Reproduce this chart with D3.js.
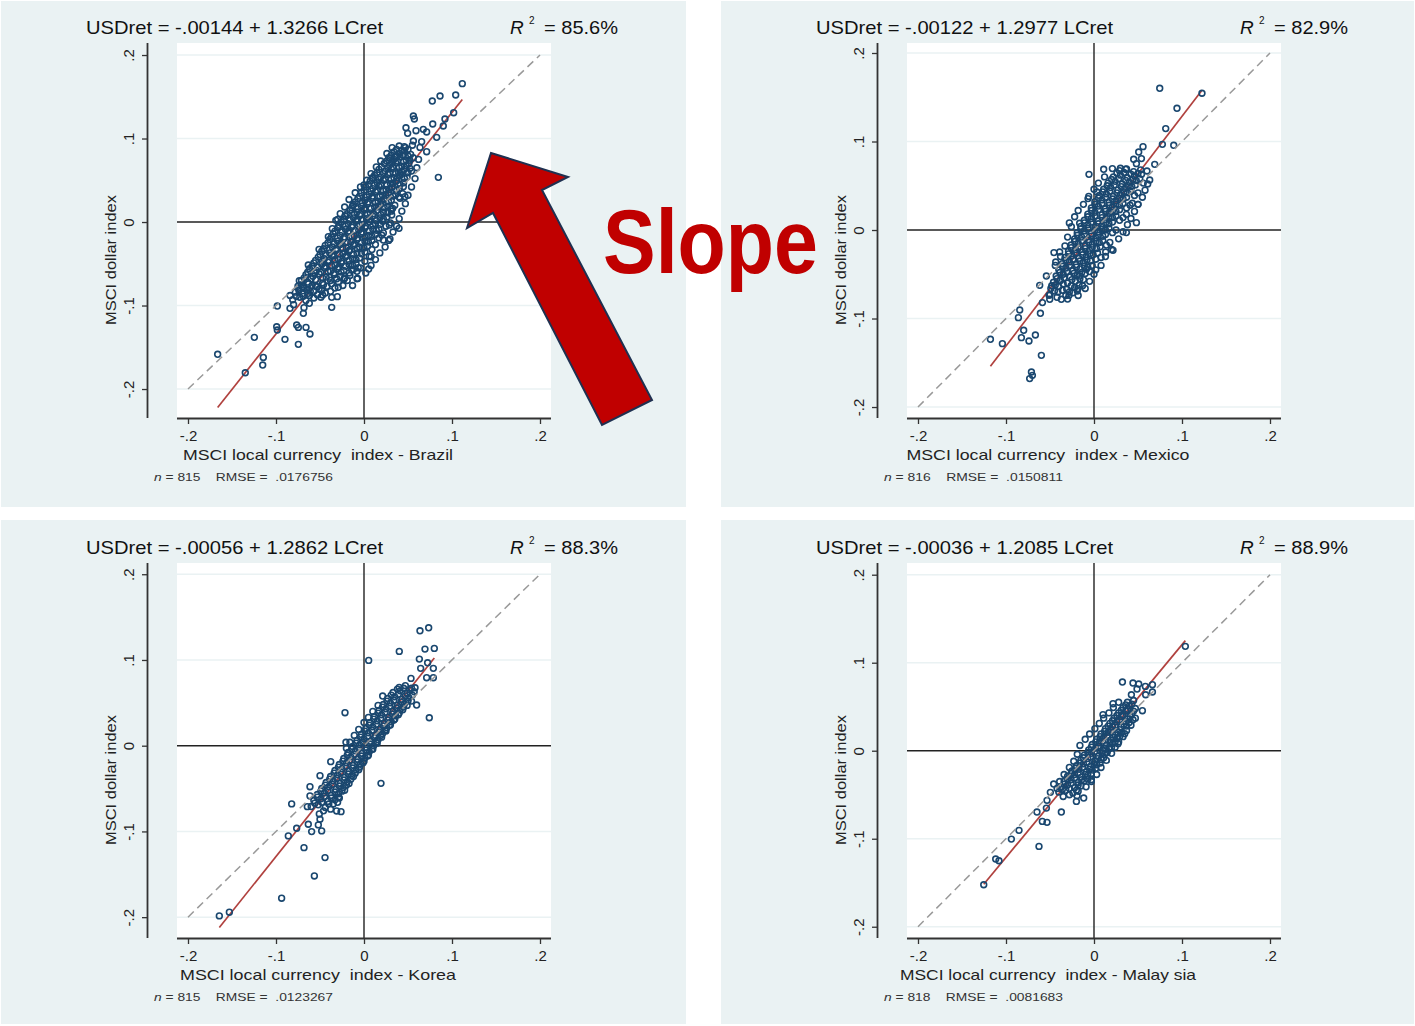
<!DOCTYPE html>
<html>
<head>
<meta charset="utf-8">
<script src="https://cdn.jsdelivr.net/npm/d3@7"></script>
<style>
  body { margin: 0; background: #fff; }
  text { font-family: "Liberation Sans", Arial, sans-serif; }
</style>
</head>
<body>
<svg id="chart" width="1415" height="1026"></svg>
<script>
// regression results shown in each panel
const countries = ['Brazil', 'Mexico', 'Korea', 'Malaysia'];
const countryLabels = ['Brazil', 'Mexico', 'Korea', 'Malay sia'];
const intercepts = [-0.00144, -0.00122, -0.00056, -0.00036];
const slopes = [1.3266, 1.2977, 1.2862, 1.2085];
const interceptLabels = ['-.00144', '-.00122', '-.00056', '-.00036'];
const slopeLabels = ['1.3266', '1.2977', '1.2862', '1.2085'];
const r2Labels = ['85.6%', '82.9%', '88.3%', '88.9%'];
const nObs = [815, 816, 815, 818];
const rmseLabels = ['.0176756', '.0150811', '.0123267', '.0081683'];

const tickValues = [-0.2, -0.1, 0, 0.1, 0.2];
const tickLabels = ['-.2', '-.1', '0', '.1', '.2'];
const gridValues = [-0.2, -0.1, 0.1, 0.2];
const diagValues = [-0.2, 0.2];

// axis ranges as drawn by Stata
const xDomain = [-0.2125, 0.2125];
const yDomains = [[-0.2347, 0.2144], [-0.2124, 0.2113], [-0.2243, 0.2131], [-0.2128, 0.2133]];

// monthly returns [LCret, USDret]
const brazilPts = [
  [.1117,.1657],[.1042,.1521],[.0864,.1509],[.0776,.1449],[.1019,.1309],[.0920,.1234],[.0901,.1150],[.0561,.1269],
  [.0572,.1234],[.0477,.1129],[.0591,.1094],[.0674,.1110],[.0781,.1174],[.0712,.1079],[.0826,.1014],[.0496,.1062],
  [.0561,.0970],[.0655,.0962],[.0636,.0894],[.0712,.0842],[.0845,.0535],[.0458,.0902],[.0356,.0790],[.0447,.0802],
  [.0523,.0643],[.0409,.0583],[.0295,.0763],[.0447,.0423],[.0466,.0303],[.0409,.0284],[.0326,.0164],[.0315,.0084],
  [.0398,-.0076],[.0288,-.0036],[.0295,-.0204],[.0220,-.0216],[.0201,-.0156],[.0095,.0531],[.0000,.0443],[-.0129,.0195],
  [-.0216,.0076],[-.0299,.0032],[-.0292,-.0056],[-.0405,-.0176],[-.0511,-.0327],[-.0633,-.0515],[-.0735,-.0703],[-.0746,-.0794],
  [-.0689,-.0775],[-.0633,-.0854],[-.0538,-.0775],[-.0470,-.0874],[-.0367,-.0902],[-.0303,-.0894],[-.0367,-.1022],[-.0292,-.0782],
  [-.0227,-.0683],[-.0140,-.0575],[-.0072,-.0675],[-.0065,-.0547],[.0053,-.0563],[.0080,-.0415],[-.0621,-.0974],[-.0682,-.1026],
  [-.0841,-.1034],[-.0985,-.1006],[-.0689,-.1094],[-.0765,-.1234],[-.0746,-.1262],[-.0659,-.1262],[-.0614,-.1341],[-.0992,-.1254],
  [-.0985,-.1293],[-.0898,-.1405],[-.0746,-.1465],[-.1246,-.1381],[-.1144,-.1621],[-.1151,-.1713],[-.1349,-.1805],[-.1663,-.1584],
  [-.081,-.093],[-.073,-.090],[-.066,-.094],[-.057,-.091],[-.078,-.084],[-.070,-.086],[-.061,-.083],[-.053,-.087],[-.044,-.085],
  [-.075,-.077],[-.068,-.079],[-.059,-.076],[-.051,-.080],[-.042,-.077],[-.033,-.079],
  [-.071,-.070],[-.064,-.072],[-.055,-.069],[-.047,-.073],[-.038,-.070],[-.029,-.072],[-.019,-.070],
  [-.066,-.063],[-.058,-.065],[-.051,-.062],[-.043,-.066],[-.034,-.063],[-.027,-.065],[-.016,-.064],
  [-.062,-.056],[-.054,-.058],[-.045,-.055],[-.038,-.059],[-.030,-.056],[-.023,-.058],[-.012,-.057],[-.004,-.055],
  [-.057,-.049],[-.048,-.051],[-.041,-.048],[-.033,-.052],[-.026,-.049],[-.017,-.051],[-.009,-.050],
  [-.052,-.042],[-.045,-.044],[-.036,-.041],[-.029,-.045],[-.021,-.042],[-.013,-.044],[-.005,-.043],[.006,-.041],
  [-.048,-.035],[-.039,-.037],[-.032,-.034],[-.024,-.038],[-.017,-.035],[-.008,-.037],[.001,-.036],
  [-.044,-.028],[-.036,-.030],[-.027,-.027],[-.020,-.031],[-.012,-.028],[-.005,-.030],[.004,-.029],[.013,-.027],
  [-.039,-.021],[-.030,-.023],[-.023,-.020],[-.015,-.024],[-.008,-.021],[.001,-.023],[.009,-.022],
  [-.035,-.014],[-.027,-.016],[-.018,-.013],[-.011,-.017],[-.003,-.014],[.005,-.016],[.013,-.015],[.022,-.013],
  [-.030,-.007],[-.021,-.009],[-.014,-.006],[-.006,-.010],[.001,-.007],[.010,-.009],[.017,-.008],
  [-.026,.000],[-.018,-.002],[-.009,.001],[-.002,-.003],[.006,.000],[.013,-.002],[.021,.001],[.030,-.001],
  [-.021,.007],[-.012,.005],[-.005,.008],[.003,.004],[.010,.007],[.018,.005],[.026,.006],
  [-.016,.014],[-.008,.012],[.000,.015],[.007,.011],[.015,.014],[.022,.012],[.031,.013],
  [-.012,.021],[-.003,.019],[.004,.022],[.012,.018],[.019,.021],[.027,.019],[.035,.020],
  [-.007,.028],[.001,.026],[.009,.029],[.016,.025],[.023,.028],[.031,.026],
  [-.003,.035],[.006,.033],[.013,.036],[.021,.032],[.028,.035],[.036,.033],[.044,.034],
  [.002,.042],[.010,.040],[.017,.043],[.025,.039],[.032,.042],[.040,.040],
  [.007,.049],[.015,.047],[.022,.050],[.030,.046],[.037,.049],[.045,.047],
  [.012,.056],[.019,.054],[.027,.057],[.034,.053],[.041,.056],[.049,.054],
  [.017,.063],[.024,.061],[.031,.064],[.039,.060],[.046,.063],[.054,.061],
  [.023,.070],[.029,.068],[.036,.071],[.043,.067],[.051,.070],
  [.028,.077],[.034,.075],[.041,.078],[.048,.074],[.056,.077],
  [.034,.084],[.040,.082],[.046,.085],[.053,.081],[.040,.091],[.047,.089],[.055,.092],
  [-.077,-.089],[-.069,-.089],[-.062,-.088],[-.049,-.090],
  [-.074,-.082],[-.065,-.081],[-.057,-.083],[-.048,-.082],[-.038,-.083],
  [-.071,-.075],[-.063,-.074],[-.055,-.076],[-.046,-.075],[-.037,-.074],[-.024,-.076],
  [-.068,-.067],[-.060,-.068],[-.047,-.067],[-.039,-.066],[-.031,-.068],[-.022,-.067],
  [-.064,-.060],[-.056,-.061],[-.049,-.060],[-.041,-.059],[-.034,-.061],[-.026,-.060],[-.017,-.061],[-.008,-.059],
  [-.059,-.053],[-.052,-.054],[-.044,-.053],[-.037,-.052],[-.029,-.054],[-.021,-.053],[-.013,-.052],
  [-.055,-.046],[-.047,-.047],[-.040,-.046],[-.033,-.045],[-.025,-.047],[-.017,-.046],[-.009,-.045],[.001,-.047],
  [-.050,-.039],[-.043,-.040],[-.035,-.039],[-.028,-.038],[-.020,-.040],[-.012,-.039],[-.003,-.038],
  [-.046,-.032],[-.039,-.033],[-.031,-.032],[-.024,-.031],[-.016,-.033],[-.008,-.032],[.000,-.031],[.009,-.033],
  [-.041,-.025],[-.034,-.026],[-.026,-.025],[-.019,-.024],[-.011,-.026],[-.003,-.025],[.005,-.024],
  [-.037,-.018],[-.030,-.019],[-.022,-.018],[-.014,-.017],[-.007,-.019],[.001,-.018],[.009,-.017],[.017,-.019],
  [-.033,-.011],[-.025,-.012],[-.017,-.011],[-.010,-.010],[-.002,-.012],[.006,-.011],[.014,-.010],
  [-.028,-.004],[-.021,-.005],[-.013,-.004],[-.005,-.003],[.002,-.005],[.010,-.004],[.018,-.003],[.025,-.005],
  [-.023,.003],[-.016,.002],[-.008,.003],[-.001,.002],[.007,.003],[.014,.002],[.022,.004],
  [-.019,.010],[-.011,.009],[-.004,.010],[.004,.009],[.011,.010],[.019,.009],[.027,.011],
  [-.014,.017],[-.007,.016],[.001,.017],[.008,.016],[.016,.018],[.023,.017],[.031,.016],
  [-.010,.024],[-.002,.023],[.005,.024],[.013,.023],[.020,.025],[.028,.024],
  [-.005,.031],[.003,.030],[.010,.031],[.018,.030],[.025,.032],[.033,.031],[.040,.030],
  [.000,.038],[.008,.037],[.015,.038],[.022,.037],[.029,.039],[.037,.038],
  [.005,.045],[.012,.044],[.019,.045],[.026,.044],[.033,.046],[.041,.045],
  [.010,.052],[.017,.051],[.024,.052],[.031,.051],[.038,.053],[.046,.052],
  [.015,.059],[.022,.058],[.029,.059],[.036,.058],[.043,.060],[.050,.059],
  [.020,.066],[.027,.065],[.033,.066],[.040,.065],[.048,.067],
  [.026,.073],[.032,.072],[.038,.073],[.045,.072],[.052,.074],
  [.031,.080],[.037,.079],[.044,.080],[.050,.079],[.037,.087],[.043,.086],[.050,.087],
  [-.036,-.008],[-.032,.002],[-.027,.010],[-.022,.018],[-.017,.027],[-.010,.035],[-.004,.042],[.003,.050],
  [.008,.058],[.014,.066],[.019,.073],[.026,.082],[.032,.089],[.037,-.005],[.033,-.012],[.028,-.022],
  [.024,-.030],[.018,-.037],[.013,-.045],[.008,-.052],[.002,-.061],[-.008,-.068],[-.013,-.076],[.040,.004],
  [.043,.013],[.047,.022],[.050,.032],[.054,.042],[.058,.052],[.060,.065],[.062,.075],[-.084,-.088],[-.080,-.099]
];

const mexicoPts = [
  [.0747,.1601],[.1227,.1545],[.0943,.1375],[.0815,.1146],[.0777,.0968],[.0906,.0957],[.0557,.0942],[.0508,.0881],
  [.0451,.0799],[.0482,.0750],[.0539,.0807],[.0602,.0667],[.0690,.0742],[.0633,.0565],[.0110,.0686],[.0209,.0694],
  [.0300,.0697],[.0360,.0686],[-.0057,.0629],[-.0068,.0355],[.0034,.0429],[.0436,.0302],[.0500,.0290],[.0368,.0177],
  [.0482,.0083],[.0368,-.0029],[.0216,-.0229],[.0133,-.0249],[-.0257,.0038],[-.0163,.0076],[-.0455,-.0255],[-.0390,-.0249],
  [-.0435,-.0362],[-.0086,-.0444],[-.0163,-.0520],[-.0182,-.0662],[-.0284,-.0738],[-.0371,-.0783],[-.0503,-.0783],[-.0511,-.0738],
  [-.0541,-.0520],[-.0617,-.0625],[-.0586,-.0820],[-.0609,-.0941],[-.0844,-.0904],[-.0859,-.0990],[-.0799,-.1133],[-.0825,-.1216],
  [-.0739,-.1254],[-.0666,-.1186],[-.1041,-.1284],[-.1177,-.1235],[-.0598,-.1416],[-.0711,-.1604],[-.0731,-.1679],[-.0700,-.1642],
  [-.050,-.073],[-.041,-.070],[-.032,-.074],[-.024,-.071],
  [-.049,-.066],[-.040,-.064],[-.031,-.067],[-.022,-.065],[-.013,-.063],
  [-.046,-.059],[-.038,-.057],[-.030,-.060],[-.021,-.058],[-.012,-.056],
  [-.043,-.052],[-.035,-.050],[-.027,-.053],[-.019,-.051],[-.010,-.049],
  [-.040,-.045],[-.032,-.043],[-.024,-.046],[-.016,-.044],[-.007,-.042],[.002,-.045],
  [-.036,-.038],[-.028,-.036],[-.020,-.039],[-.012,-.037],[-.004,-.035],
  [-.033,-.031],[-.025,-.029],[-.017,-.032],[-.009,-.030],[-.001,-.028],[.008,-.031],
  [-.029,-.024],[-.021,-.022],[-.013,-.025],[-.005,-.023],[.003,-.021],
  [-.026,-.017],[-.018,-.015],[-.010,-.018],[-.002,-.016],[.006,-.014],[.014,-.017],
  [-.022,-.010],[-.014,-.008],[-.006,-.011],[.002,-.009],[.010,-.007],
  [-.019,-.003],[-.011,-.001],[-.003,-.004],[.005,-.002],[.013,.000],[.021,-.003],
  [-.015,.004],[-.007,.006],[.001,.003],[.009,.005],[.017,.007],
  [-.011,.011],[-.003,.013],[.005,.010],[.013,.012],[.021,.014],[.029,.011],
  [-.007,.018],[.001,.020],[.009,.017],[.017,.019],[.025,.021],
  [-.003,.025],[.005,.027],[.013,.024],[.021,.026],[.029,.028],[.037,.025],
  [.001,.032],[.009,.034],[.017,.031],[.025,.033],[.033,.035],
  [.006,.039],[.014,.041],[.022,.038],[.030,.040],[.038,.042],[.046,.039],
  [.011,.046],[.019,.048],[.027,.045],[.035,.047],[.043,.049],
  [.016,.053],[.024,.055],[.032,.052],[.040,.054],[.048,.056],[.056,.053],
  [.022,.060],[.030,.062],[.038,.059],[.046,.061],[.054,.063],
  [.029,.067],[.037,.069],[.045,.066],[.053,.068],
  [-.045,-.069],[-.036,-.068],[-.028,-.070],[-.019,-.069],
  [-.044,-.062],[-.035,-.061],[-.026,-.063],[-.017,-.062],
  [-.042,-.055],[-.034,-.054],[-.025,-.056],[-.016,-.055],
  [-.039,-.048],[-.031,-.047],[-.023,-.049],[-.014,-.048],[-.005,-.047],
  [-.036,-.041],[-.028,-.040],[-.020,-.042],[-.011,-.041],[-.002,-.040],
  [-.032,-.034],[-.024,-.033],[-.016,-.035],[-.008,-.034],[.002,-.033],
  [-.029,-.027],[-.021,-.026],[-.013,-.028],[-.005,-.027],[.004,-.026],
  [-.026,-.020],[-.018,-.019],[-.010,-.021],[-.002,-.020],[.007,-.019],
  [-.022,-.013],[-.014,-.012],[-.006,-.014],[.002,-.013],[.010,-.012],[.018,-.014],
  [-.019,-.006],[-.011,-.005],[-.003,-.007],[.005,-.006],[.013,-.005],
  [-.015,.001],[-.007,.002],[.001,.000],[.009,.001],[.017,.002],[.025,.000],
  [-.011,.008],[-.003,.009],[.005,.007],[.013,.008],[.021,.009],
  [-.007,.015],[.001,.016],[.009,.014],[.017,.015],[.025,.016],[.033,.014],
  [-.003,.022],[.005,.023],[.013,.021],[.021,.022],[.029,.023],
  [.001,.029],[.009,.030],[.017,.028],[.025,.029],[.033,.030],[.041,.028],
  [.005,.036],[.013,.037],[.021,.035],[.029,.036],[.037,.037],
  [.010,.043],[.018,.044],[.026,.042],[.034,.043],[.042,.044],[.050,.042],
  [.015,.050],[.023,.051],[.031,.049],[.039,.050],[.047,.051],
  [.020,.057],[.028,.058],[.036,.056],[.044,.057],[.052,.058],
  [.026,.064],[.034,.065],[.042,.063],[.050,.064],
  [-.028,.008],[-.022,.015],[-.018,.022],[-.012,.029],[-.006,.038],[.000,.046],[.005,.053],[.012,.060],
  [.028,-.010],[.033,-.002],[.038,.006],[.042,.013],[.046,.021],[.050,.029],[.055,.037],[.058,.045],
  [.061,.052],[.020,-.022],[.013,-.030],[.008,-.040],[.000,-.050],[-.005,-.058],[-.010,-.066],[-.018,-.074],
  [-.030,-.078],[-.042,-.076],[-.048,-.063],[-.044,-.040],[-.038,-.030],[-.033,-.018],[-.030,-.008]
];

const koreaPts = [
  [.0636,.1340],[.0735,.1375],[.0693,.1127],[.0799,.1135],[.0401,.1100],[.0053,.0995],[.0629,.1010],[.0723,.0967],
  [.0644,.0902],[.0788,.0902],[.0712,.0793],[.0788,.0793],[.0534,.0785],[.0580,.0676],[.0598,.0474],[.0742,.0326],
  [.0212,.0579],[-.0216,.0385],[-.0205,.0040],[-.0378,-.0186],[.0193,-.0439],[-.0614,-.0478],[-.0500,-.0350],[-.0614,-.0586],
  [-.0822,-.0679],[-.0644,-.0711],[-.0508,-.0796],[-.0311,-.0761],[-.0261,-.0769],[-.0500,-.0858],[-.0633,-.0916],[-.0519,-.0924],
  [-.0595,-.1002],[-.0481,-.0994],[-.0765,-.0963],[-.0860,-.1052],[-.0682,-.1189],[-.0443,-.1305],[-.0564,-.1519],[-.0936,-.1779],
  [-.1530,-.1942],[-.1644,-.1985],
  [-.060,-.071],[-.052,-.069],[-.044,-.072],
  [-.057,-.064],[-.049,-.062],[-.041,-.065],[-.033,-.063],
  [-.053,-.057],[-.045,-.055],[-.037,-.058],[-.029,-.056],
  [-.048,-.050],[-.040,-.048],[-.032,-.051],[-.024,-.049],
  [-.043,-.043],[-.035,-.041],[-.027,-.044],[-.019,-.042],
  [-.038,-.036],[-.030,-.034],[-.022,-.037],[-.014,-.035],
  [-.033,-.029],[-.025,-.027],[-.017,-.030],[-.009,-.028],
  [-.028,-.022],[-.020,-.020],[-.012,-.023],[-.004,-.021],
  [-.023,-.015],[-.015,-.013],[-.007,-.016],[.001,-.014],
  [-.018,-.008],[-.010,-.006],[-.002,-.009],[.006,-.007],
  [-.013,-.001],[-.005,.001],[.003,-.002],[.011,.000],
  [-.008,.006],[.000,.008],[.008,.005],[.016,.007],
  [-.003,.013],[.005,.015],[.013,.012],[.021,.014],
  [.002,.020],[.010,.022],[.018,.019],[.026,.021],
  [.007,.027],[.015,.029],[.023,.026],[.031,.028],
  [.012,.034],[.020,.036],[.028,.033],[.036,.035],
  [.017,.041],[.025,.043],[.033,.040],[.041,.042],
  [.022,.048],[.030,.050],[.038,.047],[.046,.049],
  [.027,.055],[.035,.057],[.043,.054],[.051,.056],
  [.033,.062],[.041,.064],[.049,.061],[.057,.063],
  [.040,.068],[.047,.070],[.054,.067],
  [-.056,-.067],[-.048,-.066],[-.040,-.068],
  [-.053,-.060],[-.045,-.059],[-.037,-.061],[-.029,-.060],
  [-.049,-.053],[-.041,-.052],[-.033,-.054],[-.025,-.053],
  [-.044,-.046],[-.036,-.045],[-.028,-.047],[-.020,-.046],
  [-.039,-.039],[-.031,-.038],[-.023,-.040],[-.015,-.039],
  [-.034,-.032],[-.026,-.031],[-.018,-.033],[-.010,-.032],
  [-.029,-.025],[-.021,-.024],[-.013,-.026],[-.005,-.025],
  [-.024,-.018],[-.016,-.017],[-.008,-.019],[.000,-.018],
  [-.019,-.011],[-.011,-.010],[-.003,-.012],[.005,-.011],
  [-.014,-.004],[-.006,-.003],[.002,-.005],[.010,-.004],
  [-.009,.003],[-.001,.004],[.007,.002],[.015,.003],
  [-.004,.010],[.004,.011],[.012,.009],[.020,.010],
  [.001,.017],[.009,.018],[.017,.016],[.025,.017],
  [.006,.024],[.014,.025],[.022,.023],[.030,.024],
  [.011,.031],[.019,.032],[.027,.030],[.035,.031],
  [.016,.038],[.024,.039],[.032,.037],[.040,.038],
  [.021,.045],[.029,.046],[.037,.044],[.045,.045],
  [.026,.052],[.034,.053],[.042,.051],[.050,.052],
  [.031,.059],[.039,.060],[.047,.058],[.055,.059],
  [.038,.066],[.045,.067],[.052,.065],
  [-.020,-.003],[-.016,.004],[-.011,.012],[-.006,.019],[.000,.027],[.005,.033],[.010,.040],[.016,.047],
  [.019,.012],[.024,.018],[.029,.024],[.034,.030],[.039,.036],[.044,.042],[.049,.047],[.054,.052],
  [.014,.004],[.009,-.004],[.004,-.012],[-.001,-.020],[-.006,-.028],[-.012,-.036],[-.017,-.044],[-.022,-.052],
  [-.028,-.061],[-.035,-.068],[-.038,-.074],[-.030,-.066],[-.046,-.076]
];

const malaysiaPts = [
  [.1038,.1186],[-.1253,-.1523],[-.1117,-.1231],[-.1080,-.1250],[-.0625,-.1087],[-.0939,-.1004],[-.0852,-.0905],[-.0534,-.0814],
  [-.0587,-.0803],[-.0648,-.0697],[-.0371,-.0697],[-.0541,-.0652],[-.0534,-.0564],[-.0496,-.0473],[-.0458,-.0379],[-.0200,-.0576],
  [-.0117,-.0538],[-.0193,-.0511],[-.0030,-.0330],[.0323,.0780],[.0443,.0769],[.0508,.0758],[.0584,.0731],[.0664,.0750],
  [.0664,.0667],[.0587,.0636],[.0489,.0701],[.0425,.0636],[.0550,.0455],[.0216,.0534],[.0102,.0409],[.0349,.0193],
  [.0273,.0080],[.0110,.0027],[.0443,.0352],
  [-.040,-.047],[-.032,-.045],[-.024,-.048],
  [-.038,-.041],[-.030,-.039],[-.022,-.042],[-.015,-.040],
  [-.034,-.035],[-.026,-.033],[-.018,-.036],[-.011,-.034],
  [-.030,-.029],[-.022,-.027],[-.014,-.030],[-.007,-.028],
  [-.025,-.023],[-.017,-.021],[-.009,-.024],[-.002,-.022],
  [-.020,-.017],[-.012,-.015],[-.004,-.018],[.003,-.016],
  [-.015,-.011],[-.007,-.009],[.001,-.012],[.008,-.010],
  [-.011,-.005],[-.003,-.003],[.005,-.006],[.012,-.004],
  [-.006,.001],[.002,.003],[.010,.000],[.017,.002],
  [-.002,.007],[.006,.009],[.014,.006],[.021,.008],
  [.003,.013],[.011,.015],[.019,.012],[.026,.014],
  [.008,.019],[.016,.021],[.024,.018],[.031,.020],
  [.013,.025],[.021,.027],[.029,.024],
  [.018,.031],[.026,.033],[.034,.030],[.040,.032],
  [.023,.037],[.031,.039],[.038,.036],
  [.028,.043],[.036,.045],[.043,.042],
  [.033,.049],[.040,.051],[.047,.048],
  [.038,.055],[.045,.057],
  [-.036,-.044],[-.028,-.043],[-.020,-.045],
  [-.034,-.038],[-.026,-.037],[-.018,-.039],
  [-.030,-.032],[-.022,-.031],[-.014,-.033],[-.007,-.032],
  [-.026,-.026],[-.018,-.025],[-.010,-.027],[-.003,-.026],
  [-.021,-.020],[-.013,-.019],[-.005,-.021],[.002,-.020],
  [-.016,-.014],[-.008,-.013],[.000,-.015],[.007,-.014],
  [-.012,-.008],[-.004,-.007],[.004,-.009],[.011,-.008],
  [-.007,-.002],[.001,-.001],[.009,-.003],[.015,-.002],
  [-.003,.004],[.005,.005],[.013,.003],[.020,.004],
  [.002,.010],[.010,.011],[.018,.009],[.024,.010],
  [.007,.016],[.015,.017],[.022,.015],[.029,.016],
  [.012,.022],[.020,.023],[.027,.021],
  [.016,.028],[.024,.029],[.031,.027],[.037,.028],
  [.021,.034],[.029,.035],[.036,.033],
  [.026,.040],[.033,.041],[.041,.039],
  [.031,.046],[.038,.047],[.045,.045],
  [.036,.052],[.043,.053],
  [-.016,.006],[-.010,.013],[-.005,.019],[.001,.025],[.006,.031],[.011,.037],[.017,.043],[.022,.049],
  [.028,.055],[.020,-.003],[.024,.004],[.028,.010],[.033,.016],[.037,.023],[.042,.029],[.047,.037],
  [.014,-.011],[.008,-.019],[.003,-.027],[-.003,-.035],[-.009,-.041],[-.018,-.046],[-.028,-.050],[-.035,-.052],
  [-.042,-.043],[-.039,-.035],[-.034,-.027],[-.028,-.019],[-.023,-.012],[-.019,-.004]
];

const pointSets = [brazilPts, mexicoPts, koreaPts, malaysiaPts];

const svg = d3.select('#chart');
const navy = '#1a476f';

// panel frames: [x, y, w, h] of the light background, and the offset of the plot inside
const frames = [[1, 1, 685, 506], [721, 1, 693, 506], [1, 520, 685, 504], [721, 520, 693, 504]];
const offsets = [[0, 0], [730, 0], [0, 520], [730, 520]];
const xTitleWidths = [270, 283, 276, 296];

countries.forEach((country, i) => drawPanel(i));
drawCallout();

function drawPanel(i) {
  const [fx, fy, fw, fh] = frames[i];
  svg.append('rect').attr('x', fx).attr('y', fy).attr('width', fw).attr('height', fh).attr('fill', '#eaf2f3');

  const g = svg.append('g').attr('transform', `translate(${offsets[i][0]},${offsets[i][1]})`);
  const left = 177, right = 551, top = 43, bottom = 418;
  const x = d3.scaleLinear().domain(xDomain).range([left, right]);
  const y = d3.scaleLinear().domain(yDomains[i]).range([bottom, top]);

  g.append('rect').attr('x', left).attr('y', top).attr('width', right - left).attr('height', bottom - top).attr('fill', '#fff');

  g.selectAll('.grid').data(gridValues).join('line')
    .attr('x1', left).attr('x2', right)
    .attr('y1', (d) => y(d)).attr('y2', (d) => y(d))
    .attr('stroke', '#eaf2f3').attr('stroke-width', 1.5);

  // zero reference lines
  g.append('line').attr('x1', x(0)).attr('x2', x(0)).attr('y1', top).attr('y2', bottom)
    .attr('stroke', '#222').attr('stroke-width', 1.4);
  g.append('line').attr('x1', left).attr('x2', right).attr('y1', y(0)).attr('y2', y(0))
    .attr('stroke', '#222').attr('stroke-width', 1.6);

  const pts = pointSets[i];
  const xr = d3.extent(pts, (d) => d[0]);
  const fit = xr.map((v) => [v, intercepts[i] + slopes[i] * v]);
  const line = d3.line().x((d) => x(d[0])).y((d) => y(d[1]));

  g.append('path').attr('d', line(fit)).attr('fill', 'none')
    .attr('stroke', '#b0413e').attr('stroke-width', 1.7);

  g.selectAll('.pt').data(pts).join('circle')
    .attr('cx', (d) => x(d[0])).attr('cy', (d) => y(d[1])).attr('r', 2.9)
    .attr('fill', 'none').attr('stroke', navy).attr('stroke-width', 1.6);

  g.append('path').attr('d', line(diagValues.map((v) => [v, v]))).attr('fill', 'none')
    .attr('stroke', '#999').attr('stroke-width', 1.5).attr('stroke-dasharray', '8,5');

  // axes
  const xAxis = d3.axisBottom(x).tickValues(tickValues).tickFormat((d, k) => tickLabels[k]).tickSize(6).tickSizeOuter(0);
  const xg = g.append('g').attr('transform', `translate(0,${bottom})`).call(xAxis);
  xg.select('.domain').attr('d', `M${left},0.5H${right}`).attr('stroke', '#333').attr('stroke-width', 1.8);
  xg.selectAll('.tick line').attr('stroke', '#333').attr('stroke-width', 1.3);
  xg.selectAll('.tick text').attr('font-size', 15).attr('font-family', '"Liberation Sans", Arial, sans-serif')
    .attr('fill', '#222').attr('y', 12).attr('dy', '0.71em');

  const yAxis = d3.axisLeft(y).tickValues(tickValues).tickFormat((d, k) => tickLabels[k]).tickSize(6).tickSizeOuter(0);
  const yg = g.append('g').attr('transform', 'translate(148,0)').call(yAxis);
  yg.select('.domain').attr('d', `M-0.5,${top}V${bottom}`).attr('stroke', '#333').attr('stroke-width', 1.8);
  yg.selectAll('.tick line').attr('stroke', '#333').attr('stroke-width', 1.3);
  yg.selectAll('.tick text').attr('font-size', 15).attr('font-family', '"Liberation Sans", Arial, sans-serif')
    .attr('fill', '#222').attr('x', null).attr('dy', null)
    .attr('text-anchor', 'middle').attr('transform', 'translate(-14,0) rotate(-90)');

  // titles
  g.append('text').attr('x', 86).attr('y', 34).attr('font-size', 19).attr('fill', '#111')
    .attr('textLength', 297).attr('lengthAdjust', 'spacingAndGlyphs')
    .text(`USDret = ${interceptLabels[i]} + ${slopeLabels[i]} LCret`);
  g.append('text').attr('x', 510).attr('y', 34).attr('font-size', 19).attr('font-style', 'italic').attr('fill', '#111').text('R');
  g.append('text').attr('x', 529).attr('y', 24).attr('font-size', 10).attr('fill', '#111').text('2');
  g.append('text').attr('x', 544).attr('y', 34).attr('font-size', 19).attr('fill', '#111')
    .attr('textLength', 74).attr('lengthAdjust', 'spacingAndGlyphs').text(`= ${r2Labels[i]}`);

  g.append('text').attr('transform', 'translate(116,260) rotate(-90)').attr('text-anchor', 'middle')
    .attr('font-size', 15).attr('fill', '#222')
    .attr('textLength', 130).attr('lengthAdjust', 'spacingAndGlyphs').text('MSCI dollar index');

  g.append('text').attr('x', 318).attr('y', 460).attr('text-anchor', 'middle')
    .attr('font-size', 15).attr('fill', '#222').attr('xml:space', 'preserve')
    .attr('textLength', xTitleWidths[i]).attr('lengthAdjust', 'spacingAndGlyphs')
    .text(`MSCI local currency  index - ${countryLabels[i]}`);

  const foot = g.append('text').attr('x', 154).attr('y', 481).attr('font-size', 11.5).attr('fill', '#333')
    .attr('textLength', 179).attr('lengthAdjust', 'spacingAndGlyphs').attr('xml:space', 'preserve');
  foot.append('tspan').attr('font-style', 'italic').text('n');
  foot.append('tspan').text(` = ${nObs[i]}    RMSE =  ${rmseLabels[i]}`);
}

function drawCallout() {
  const arrow = [[491, 153], [568, 177], [542, 190], [652, 400], [602, 425], [493, 213], [467, 228]];
  svg.append('path').attr('d', d3.line()(arrow) + 'Z')
    .attr('fill', '#c00000').attr('stroke', '#1f3050').attr('stroke-width', 2).attr('stroke-linejoin', 'miter');
  svg.append('text').attr('x', 603).attr('y', 273)
    .attr('font-family', 'Lato, "Open Sans", sans-serif').attr('font-weight', 'bold')
    .attr('font-size', 90).attr('fill', '#c00000')
    .attr('textLength', 215).attr('lengthAdjust', 'spacingAndGlyphs').text('Slope');
}
</script>
</body>
</html>
